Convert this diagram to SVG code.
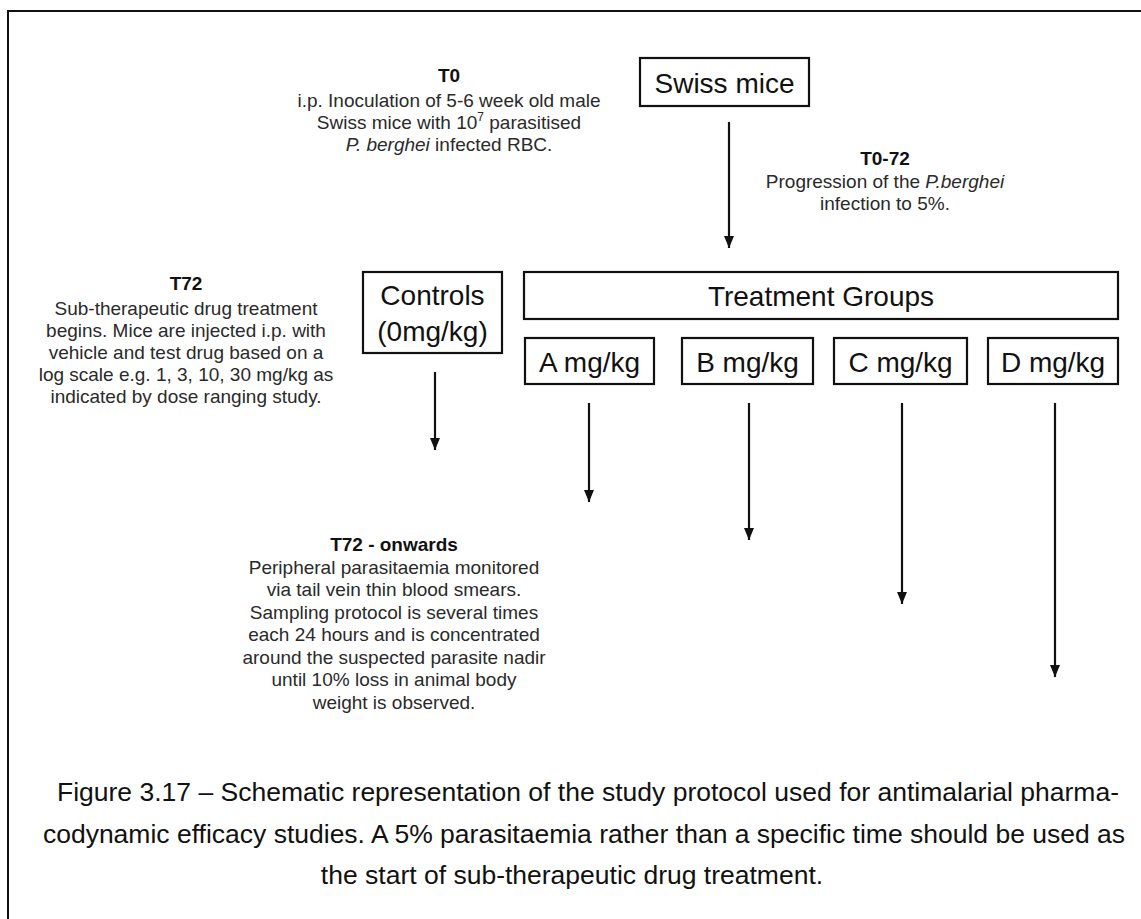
<svg xmlns="http://www.w3.org/2000/svg" width="1141" height="919" viewBox="0 0 1141 919">
  <style>
    .frame { fill: none; stroke: #111; stroke-width: 2; }
    .node rect { fill: #fff; stroke: #111; stroke-width: 2.2; }
    .lbl { font-family: "Liberation Sans", Arial, sans-serif; font-size: 28px; fill: #111; text-anchor: middle; }
    .note { font-family: "Liberation Sans", Arial, sans-serif; font-size: 19px; fill: #2a2a2a; text-anchor: middle; }
    .note .h { font-weight: bold; fill: #111; }
    .cap { font-family: "Liberation Sans", Arial, sans-serif; font-size: 26.5px; fill: #111; text-anchor: middle; }
    #connectors line { stroke: #111; stroke-width: 2.2; marker-end: url(#ah); }
  </style>
  <defs>
    <marker id="ah" markerUnits="userSpaceOnUse" markerWidth="12" markerHeight="10" refX="12" refY="5" orient="auto">
      <path d="M0,0 L12,5 L0,10 Z" fill="#111"/>
    </marker>
  </defs>

  <rect width="1141" height="919" fill="#fff"/>
  <!-- page frame: only the top and left edges fall inside the canvas -->
  <path class="frame" d="M8,919 V11 H1141"/>

  <!-- annotations -->
  <g id="note-t0" class="note">
    <text x="449" y="82" class="h">T0</text>
    <text x="449" y="107">i.p. Inoculation of 5-6 week old male</text>
    <text x="449" y="129">Swiss mice with 10<tspan font-size="12" dy="-8">7</tspan><tspan dy="8"> parasitised</tspan></text>
    <text x="449" y="151"><tspan font-style="italic">P. berghei</tspan> infected RBC.</text>
  </g>

  <g id="note-t0-72" class="note">
    <text x="885" y="165" class="h">T0-72</text>
    <text x="885" y="188">Progression of the <tspan font-style="italic">P.berghei</tspan></text>
    <text x="885" y="210">infection to 5%.</text>
  </g>

  <g id="note-t72" class="note">
    <text x="186" y="290" class="h">T72</text>
    <text x="186" y="315">Sub-therapeutic drug treatment</text>
    <text x="186" y="337">begins. Mice are injected i.p. with</text>
    <text x="186" y="359">vehicle and test drug based on a</text>
    <text x="186" y="381">log scale e.g. 1, 3, 10, 30 mg/kg as</text>
    <text x="186" y="403">indicated by dose ranging study.</text>
  </g>

  <g id="note-t72-onwards" class="note">
    <text x="394" y="551" class="h">T72 - onwards</text>
    <text x="394" y="574">Peripheral parasitaemia monitored</text>
    <text x="394" y="596">via tail vein thin blood smears.</text>
    <text x="394" y="619">Sampling protocol is several times</text>
    <text x="394" y="641">each 24 hours and is concentrated</text>
    <text x="394" y="664">around the suspected parasite nadir</text>
    <text x="394" y="686">until 10% loss in animal body</text>
    <text x="394" y="709">weight is observed.</text>
  </g>

  <!-- boxes -->
  <g id="swiss-mice" class="node">
    <rect x="640" y="58" width="169" height="48"/>
    <text class="lbl" x="724.5" y="93">Swiss mice</text>
  </g>

  <g id="controls" class="node">
    <rect x="363" y="272" width="139" height="81"/>
    <text class="lbl" x="432.5" y="305">Controls</text>
    <text class="lbl" x="432.5" y="341">(0mg/kg)</text>
  </g>

  <g id="treatment-groups" class="node">
    <rect x="524" y="272" width="594" height="47"/>
    <text class="lbl" x="821" y="306">Treatment Groups</text>
  </g>

  <g id="dose-a" class="node">
    <rect x="525" y="338" width="129" height="46"/>
    <text class="lbl" x="589.5" y="372">A mg/kg</text>
  </g>
  <g id="dose-b" class="node">
    <rect x="682" y="338" width="131" height="46"/>
    <text class="lbl" x="747.5" y="372">B mg/kg</text>
  </g>
  <g id="dose-c" class="node">
    <rect x="834" y="338" width="133" height="46"/>
    <text class="lbl" x="900.5" y="372">C mg/kg</text>
  </g>
  <g id="dose-d" class="node">
    <rect x="988" y="338" width="130" height="46"/>
    <text class="lbl" x="1053" y="372">D mg/kg</text>
  </g>

  <!-- arrows -->
  <g id="connectors">
    <line x1="729" y1="122" x2="729" y2="248"/>
    <line x1="435" y1="372" x2="435" y2="450"/>
    <line x1="589" y1="403" x2="589" y2="502"/>
    <line x1="749" y1="403" x2="749" y2="540"/>
    <line x1="902" y1="403" x2="902" y2="604"/>
    <line x1="1055" y1="403" x2="1055" y2="677"/>
  </g>

  <!-- caption -->
  <g id="caption" class="cap">
    <text x="588" y="801">Figure 3.17 – Schematic representation of the study protocol used for antimalarial pharma-</text>
    <text x="584" y="843">codynamic efficacy studies. A 5% parasitaemia rather than a specific time should be used as</text>
    <text x="572" y="884">the start of sub-therapeutic drug treatment.</text>
  </g>
</svg>
